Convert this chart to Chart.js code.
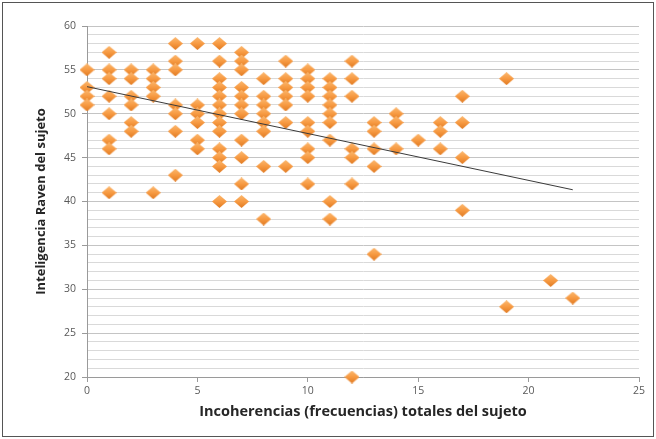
<!DOCTYPE html>
<html>
<head>
<meta charset="utf-8">
<script src="https://cdn.jsdelivr.net/npm/chart.js@4.4.1/dist/chart.umd.min.js"></script>
<style>
    html, body { margin: 0; padding: 0; background: #fff; }
    #wrap { position: relative; width: 656px; height: 439px; }
</style>
</head>
<body>
<div id="wrap"><canvas id="grafico" width="656" height="439"></canvas></div>
<script>
const frecuencias = [0, 1, 2, 3, 4, 5, 6, 7, 8, 9, 10, 11, 12, 13, 14, 15, 16, 17, 19, 21, 22];
const ravenPorFrecuencia = [
    [55, 53, 52, 51],
    [57, 55, 54, 52, 50, 47, 46, 41],
    [55, 54, 52, 51, 49, 48],
    [55, 54, 53, 52, 41],
    [58, 56, 55, 51, 50, 48, 43],
    [58, 51, 50, 49, 47, 46],
    [58, 56, 54, 53, 52, 51, 50, 49, 48, 46, 45, 44, 40],
    [57, 56, 55, 53, 52, 51, 50, 47, 45, 42, 40],
    [54, 52, 51, 50, 49, 48, 44, 38],
    [56, 54, 53, 52, 51, 49, 44],
    [55, 54, 53, 52, 49, 48, 46, 45, 42],
    [54, 53, 52, 51, 50, 49, 47, 40, 38],
    [56, 54, 52, 46, 45, 42, 20],
    [49, 48, 46, 44, 34],
    [50, 49, 46],
    [47],
    [49, 48, 46],
    [52, 49, 45, 39],
    [54, 28],
    [31],
    [29]
];
const ticksX = [0, 5, 10, 15, 20, 25];
const ticksY = [20, 25, 30, 35, 40, 45, 50, 55, 60];

const tituloX = 'Incoherencias (frecuencias) totales del sujeto';
const tituloY = 'Inteligencia Raven del sujeto';

// armar los puntos
const puntos = [];
frecuencias.forEach(function(f, i) {
    ravenPorFrecuencia[i].forEach(function(r) {
        puntos.push({ x: f, y: r });
    });
});

// linea de tendencia (minimos cuadrados)
let sx = 0, sy = 0, sxx = 0, sxy = 0;
puntos.forEach(function(p) {
    sx += p.x; sy += p.y; sxx += p.x * p.x; sxy += p.x * p.y;
});
const n = puntos.length;
const pendiente = (n * sxy - sx * sy) / (n * sxx - sx * sx);
const intercepto = (sy - pendiente * sx) / n;
const xMin = Math.min(...frecuencias);
const xMax = Math.max(...frecuencias);
const tendencia = [
    { x: xMin, y: intercepto + pendiente * xMin },
    { x: xMax, y: intercepto + pendiente * xMax }
];

// marcador en forma de rombo naranja
function rombo() {
    const c = document.createElement('canvas');
    c.width = 15;
    c.height = 13;
    const g = c.getContext('2d');
    const grad = g.createLinearGradient(0, 0, 0, 13);
    grad.addColorStop(0, '#fbb870');
    grad.addColorStop(0.5, '#f79a42');
    grad.addColorStop(1, '#e07a22');
    g.fillStyle = grad;
    g.beginPath();
    g.moveTo(7.5, 0);
    g.lineTo(15, 6.5);
    g.lineTo(7.5, 13);
    g.lineTo(0, 6.5);
    g.closePath();
    g.fill();
    return c;
}

// marco alrededor del grafico
const marco = {
    id: 'marco',
    beforeDraw: function(chart) {
        const ctx = chart.ctx;
        ctx.save();
        ctx.fillStyle = '#fff';
        ctx.fillRect(0, 0, chart.width, chart.height);
        ctx.strokeStyle = '#555';
        ctx.lineWidth = 1;
        ctx.strokeRect(2.5, 2.5, chart.width - 5, chart.height - 5);
        ctx.restore();
    }
};

const fuente = "'Open Sans', 'Noto Sans', sans-serif";

new Chart(document.getElementById('grafico').getContext('2d'), {
    type: 'scatter',
    data: {
        datasets: [{
            type: 'line',
            data: tendencia,
            borderColor: '#3a3a3a',
            borderWidth: 1,
            pointRadius: 0,
            fill: false,
            clip: false,
            order: 0
        }, {
            data: puntos,
            pointStyle: rombo(),
            pointRadius: 7,
            pointHoverRadius: 7,
            clip: false,
            order: 1
        }]
    },
    options: {
        responsive: false,
        animation: false,
        layout: { padding: { left: 29, top: 26, right: 17, bottom: 14 } },
        plugins: {
            legend: { display: false },
            tooltip: { enabled: false }
        },
        scales: {
            x: {
                type: 'linear',
                min: 0,
                max: 25,
                afterBuildTicks: function(s) {
                    s.ticks = ticksX.map(function(v) { return { value: v }; });
                },
                afterFit: function(s) { s.height = 48; },
                grid: {
                    drawOnChartArea: false,
                    drawTicks: true,
                    tickLength: 5,
                    tickColor: '#9a9a9a'
                },
                border: { display: true, color: '#9a9a9a' },
                ticks: {
                    padding: 3,
                    color: '#595959',
                    font: { family: fuente, size: 10.5 }
                },
                title: {
                    display: true,
                    text: tituloX,
                    color: '#262626',
                    padding: { top: 2 },
                    font: { family: fuente, size: 14.5, weight: 'bold' }
                }
            },
            y: {
                min: 20,
                max: 60,
                afterFit: function(s) { s.width = 58; },
                grid: {
                    color: function(c) {
                        return c.tick && ticksY.includes(c.tick.value) ? '#c4c4c4' : '#d9d9d9';
                    },
                    lineWidth: 1,
                    tickLength: 5,
                    tickColor: function(c) {
                        return c.tick && ticksY.includes(c.tick.value) ? '#9a9a9a' : 'rgba(0,0,0,0)';
                    }
                },
                border: { display: true, color: '#9a9a9a' },
                ticks: {
                    stepSize: 1,
                    autoSkip: false,
                    padding: 6,
                    color: '#595959',
                    font: { family: fuente, size: 10.5 },
                    callback: function(v) { return ticksY.includes(v) ? v : ''; }
                },
                title: {
                    display: true,
                    text: tituloY,
                    color: '#262626',
                    padding: { bottom: 2 },
                    font: { family: fuente, size: 13, weight: 'bold' }
                }
            }
        }
    },
    plugins: [marco]
});
</script>
</body>
</html>
